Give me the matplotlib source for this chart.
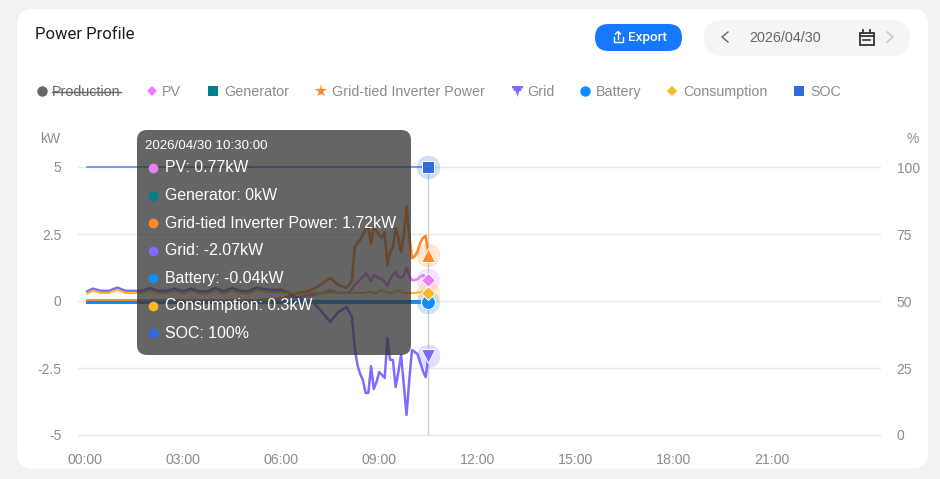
import matplotlib as mpl
mpl.use("Agg")
import numpy as np
import matplotlib.pyplot as plt
from matplotlib.patches import FancyBboxPatch, Rectangle
from matplotlib.path import Path

mpl.rcParams["font.family"] = ["Liberation Sans", "DejaVu Sans"]

# sample times in minutes since midnight
minutes = [5, 15, 30, 45, 60, 75, 90, 105, 120, 135, 150, 165, 180, 195, 210, 225, 240,
           255, 270, 285, 300, 315, 330, 345, 360, 375, 390, 405, 420, 435, 450, 465, 480,
           485, 490, 495, 500, 505, 510, 515, 520, 525, 530, 535, 540, 545, 550, 555, 560,
           565, 570, 575, 580, 585, 590, 595, 600, 605, 610, 615, 620, 625, 630]

grid = [0.36, 0.46, 0.38, 0.38, 0.5, 0.38, 0.38, 0.38, 0.48, 0.38, 0.38, 0.46, 0.36, 0.46, 0.36, 0.36, 0.48,
        0.36, 0.48, 0.38, 0.36, 0.5, 0.44, 0.41, 0.42, 0.3, 0.11, 0.0, -0.07, -0.41, -0.78, -0.41, -0.22,
        -0.41, -0.6, -1.72, -2.39, -2.72, -2.95, -3.43, -3.43, -2.43, -3.28, -3.02, -2.65, -2.76, -2.87, -1.38, -2.2,
        -2.2, -3.21, -2.65, -2.01, -3.13, -4.25, -2.95, -1.83, -1.9, -1.98, -2.28, -2.61, -2.84, -2.07]

inverter = [0.02, 0.02, 0.02, 0.02, 0.02, 0.02, 0.02, 0.02, 0.02, 0.02, 0.02, 0.02, 0.02, 0.02, 0.02, 0.02, 0.02,
            0.02, 0.02, 0.02, 0.02, 0.02, 0.02, 0.02, 0.06, 0.2, 0.3, 0.34, 0.45, 0.65, 0.86, 0.6, 0.49,
            0.6, 0.78, 2.01, 2.16, 2.28, 2.46, 2.69, 2.72, 2.13, 2.72, 2.61, 2.46, 2.35, 2.57, 1.34, 1.83,
            2.01, 2.72, 2.35, 1.83, 2.46, 3.54, 2.46, 1.6, 1.68, 1.83, 2.16, 2.35, 2.43, 1.72]

pv = [0.02, 0.02, 0.02, 0.02, 0.02, 0.02, 0.02, 0.02, 0.02, 0.02, 0.02, 0.02, 0.02, 0.02, 0.02, 0.02, 0.02,
      0.02, 0.02, 0.02, 0.02, 0.03, 0.05, 0.07, 0.1, 0.12, 0.14, 0.18, 0.22, 0.3, 0.41, 0.3, 0.3,
      0.33, 0.45, 0.6, 0.7, 0.8, 0.9, 1.04, 0.9, 0.75, 0.97, 0.9, 0.85, 0.82, 0.7, 0.56, 0.82,
      0.97, 1.08, 0.9, 0.86, 0.95, 1.23, 0.93, 0.78, 0.78, 0.82, 0.9, 0.97, 0.85, 0.77]

consumption = [0.28, 0.38, 0.3, 0.3, 0.42, 0.3, 0.3, 0.3, 0.4, 0.3, 0.3, 0.38, 0.28, 0.38, 0.28, 0.28, 0.4,
               0.28, 0.4, 0.3, 0.28, 0.42, 0.36, 0.32, 0.34, 0.3, 0.26, 0.28, 0.3, 0.3, 0.32, 0.3, 0.3,
               0.3, 0.3, 0.32, 0.3, 0.3, 0.3, 0.32, 0.34, 0.34, 0.3, 0.3, 0.38, 0.4, 0.36, 0.32, 0.3,
               0.3, 0.36, 0.4, 0.34, 0.3, 0.3, 0.3, 0.3, 0.3, 0.32, 0.32, 0.36, 0.34, 0.3]

battery = [-0.04] * len(minutes)
generator = [0] * len(minutes)
soc = [100] * len(minutes)

hour_ticks = [0, 3, 6, 9, 12, 15, 18, 21]
hour_labels = ["00:00", "03:00", "06:00", "09:00", "12:00", "15:00", "18:00", "21:00"]
kw_ticks = [-5, -2.5, 0, 2.5, 5]
kw_labels = ["-5", "-2.5", "0", "2.5", "5"]
pct_ticks = [0, 25, 50, 75, 100]

legend_names = ["Production", "PV", "Generator", "Grid-tied Inverter Power", "Grid", "Battery", "Consumption", "SOC"]
tooltip_title = "2026/04/30 10:30:00"
tooltip_rows = ["PV: 0.77kW", "Generator: 0kW", "Grid-tied Inverter Power: 1.72kW", "Grid: -2.07kW",
                "Battery: -0.04kW", "Consumption: 0.3kW", "SOC: 100%"]

C_PROD = "#666666"
C_PV = "#e580f5"
C_GEN = "#00808c"
C_INV = "#ff8a2b"
C_GRID = "#7d6cff"
C_BAT = "#0f8dff"
C_CONS = "#fdb924"
C_SOC = "#2f6bdc"
GREY = "#8c8c8c"
GRIDLINE = "#e8e8e8"

W, H = 940, 479
hours = np.array(minutes) / 60.0

fig = plt.figure(figsize=(W / 100, H / 100), dpi=100, facecolor="#f2f2f2")


def pixel_axes(z):
    a = fig.add_axes([0, 0, 1, 1], zorder=z)
    a.set_xlim(0, W)
    a.set_ylim(H, 0)
    a.axis("off")
    return a


# page furniture
bg = pixel_axes(0)
bg.add_patch(FancyBboxPatch((17, 9), 911, 459.5, boxstyle="round,pad=0,rounding_size=16", fc="white", ec="none"))
bg.text(35, 34, "Power Profile", fontsize=12, color="#1c1c1c", va="center", family="Roboto")

# export button with upload icon
bg.add_patch(FancyBboxPatch((595, 24), 87, 27, boxstyle="round,pad=0,rounding_size=13.5", fc="#1677ff", ec="none"))
bg.text(628, 37.5, "Export", fontsize=9.7, color="white", va="center", fontweight="medium", family="Roboto")
bg.plot([618, 618], [32, 39], color="white", lw=1)
bg.plot([615.5, 618, 620.5], [34, 31.5, 34], color="white", lw=1)
bg.plot([613.5, 613.5, 622.5, 622.5], [36.5, 41.5, 41.5, 36.5], color="white", lw=1)

# date picker
bg.add_patch(FancyBboxPatch((704, 20), 206, 36, boxstyle="round,pad=0,rounding_size=18", fc="#f5f5f5", ec="none"))
bg.plot([728, 722, 728], [32, 37, 42], color="#666666", lw=1)
bg.plot([887, 893, 887], [32, 37, 42], color="#c4c4c4", lw=1)
bg.text(749, 38, "2026/04/30", fontsize=10.4, color="#666666", va="center")
bg.add_patch(Rectangle((859.5, 32.5), 14, 12.5, fc="none", ec="#333333", lw=1.3))
bg.plot([859.5, 873.5], [35.5, 35.5], color="#333333", lw=1.3)
bg.plot([863, 863], [30, 33], color="#333333", lw=1.3)
bg.plot([870, 870], [30, 33], color="#333333", lw=1.3)
bg.plot([863, 870], [39.5, 39.5], color="#333333", lw=1.2)

# legend row
grid_glyph = Path([(-1, 1), (1, 1), (1, 0.55), (0.7, 0.55), (0.7, 0.1), (0.35, 0.1), (0, -1),
                   (-0.35, 0.1), (-0.7, 0.1), (-0.7, 0.55), (-1, 0.55), (-1, 1)])
legend_marks = [("o", C_PROD, 7.5, 42, 52), ("D", C_PV, 5.5, 152, 162), ("s", C_GEN, 6.8, 213, 224),
                ("*", C_INV, 9.5, 321, 332), (grid_glyph, C_GRID, 8, 517, 527), ("o", C_BAT, 7.5, 585, 596),
                ("D", C_CONS, 5.5, 672, 683), ("s", C_SOC, 6.8, 799, 810)]
for name, (m, col, ms, mx, tx) in zip(legend_names, legend_marks):
    bg.plot([mx], [91], marker=m, color=col, ms=ms, mew=0, ls="none")
    bg.text(tx, 91.5, name, fontsize=10.25, color="#666666" if name == "Production" else GREY, va="center")
bg.plot([52, 121], [91.5, 91.5], color="#666666", lw=1)

bg.text(50, 139, "kW", fontsize=10, color=GREY, ha="center", va="center")
bg.text(913, 139, "%", fontsize=10, color=GREY, ha="center", va="center")

# chart area, 32.75 px per hour with 00:00 at x=85
ax = fig.add_axes([78 / W, (H - 435) / H, 802 / W, 268 / H], zorder=1)
ax.patch.set_alpha(0)
ax.set_xlim(-6.5 / 32.75, 795.5 / 32.75)
ax.set_ylim(-5, 5)
for s in ax.spines.values():
    s.set_visible(False)
ax.set_yticks(kw_ticks)
ax.set_yticklabels(kw_labels)
ax.set_xticks(hour_ticks)
ax.set_xticklabels(hour_labels)
ax.tick_params(axis="y", length=0, pad=12, labelsize=10, labelcolor=GREY)
ax.tick_params(axis="x", length=0, pad=13, labelsize=10.2, labelcolor=GREY)
ax.yaxis.grid(True, color=GRIDLINE, lw=1, clip_on=False)
ax.set_axisbelow(True)

ax.axvline(hours[-1], color="#cfcfcf", lw=1, zorder=1.5)

ax.plot(hours, pv, color=C_PV, lw=1.8, zorder=2.1)
ax.plot(hours, generator, color=C_GEN, lw=2, zorder=2.2)
ax.plot(hours, inverter, color=C_INV, lw=1.9, zorder=2.3)
ax.plot(hours, grid, color=C_GRID, lw=1.8, zorder=2.4)
ax.plot(hours, battery, color=C_BAT, lw=2.2, zorder=2.5)
ax.plot(hours, consumption, color=C_CONS, lw=1.5, zorder=2.6)

pct = ax.twinx()
pct.set_zorder(2)
pct.patch.set_alpha(0)
pct.set_ylim(0, 100)
pct.set_yticks(pct_ticks)
pct.tick_params(axis="y", length=0, pad=12, labelsize=10, labelcolor=GREY)
for s in pct.spines.values():
    s.set_visible(False)
pct.plot(hours, soc, color="#5b8cec", lw=1.2, zorder=2, clip_on=False)

# hover markers at the last sample
hover = [(ax, pv, "D", C_PV, 7), (ax, inverter, "^", C_INV, 9.5), (ax, grid, "v", C_GRID, 9.5),
         (ax, battery, "o", C_BAT, 10), (ax, consumption, "D", C_CONS, 7), (pct, soc, "s", C_SOC, 9)]
for a, series, m, col, ms in hover:
    a.plot(hours[-1], series[-1], marker="o", color=col, ms=17, mew=0, alpha=0.22, zorder=3, clip_on=False)
for a, series, m, col, ms in hover:
    a.plot(hours[-1], series[-1], marker=m, color=col, ms=ms, mec="white", mew=0.7, zorder=4, clip_on=False)

# tooltip sits above everything and lets the lines show through
top = pixel_axes(5)
top.add_patch(FancyBboxPatch((137, 130), 274, 225, boxstyle="round,pad=0,rounding_size=10",
                             fc="#323232", ec="none", alpha=0.75))
top.text(145, 146, tooltip_title, fontsize=9.6, color="white", va="center")
row_cols = [C_PV, C_GEN, C_INV, C_GRID, C_BAT, C_CONS, C_SOC]
for i, (row, col) in enumerate(zip(tooltip_rows, row_cols)):
    y = 168 + i * 27.5
    top.plot([153], [y], marker="o", color=col, ms=7, mew=0)
    top.text(165, y, row, fontsize=11.45, color="white", va="center")

fig.savefig("out.png", dpi=100, facecolor=fig.get_facecolor())
